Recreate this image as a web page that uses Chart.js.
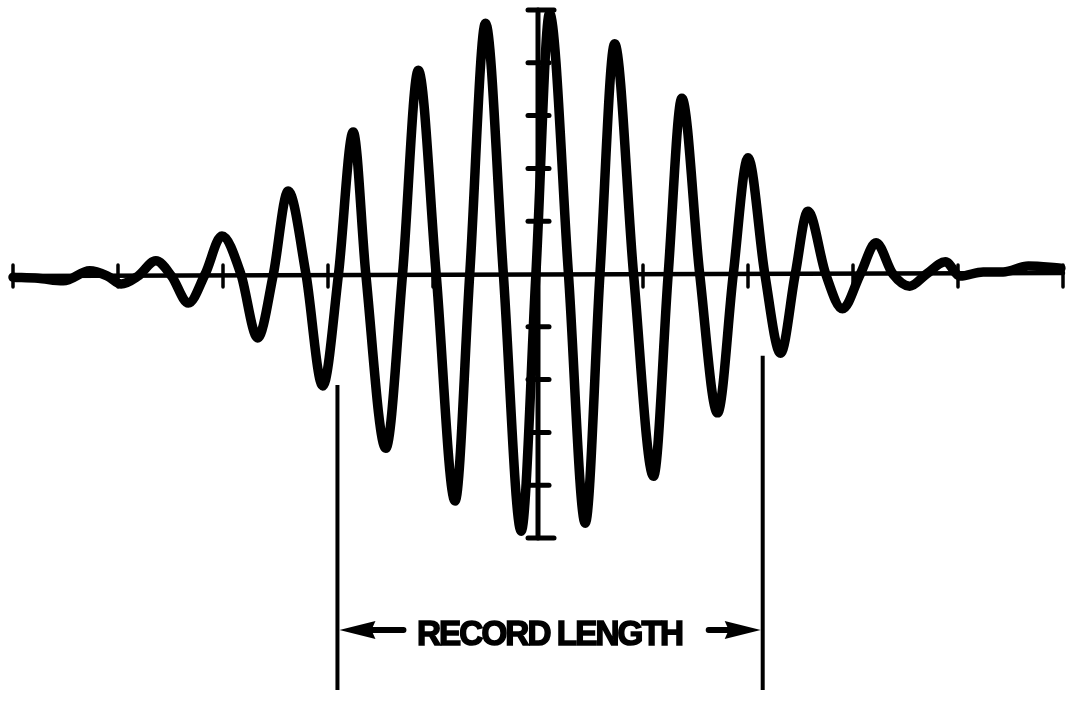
<!DOCTYPE html>
<html>
<head>
<meta charset="utf-8">
<script src="https://cdn.jsdelivr.net/npm/chart.js@4/dist/chart.umd.min.js"></script>
<style>
  html, body { margin: 0; padding: 0; background: #fff; }
  #wrap { position: relative; width: 1068px; height: 701px; overflow: hidden; }
  #c { position: absolute; left: 0; top: 0; }
  #label {
    position: absolute;
    font-family: "Liberation Sans Narrow", "Liberation Sans", Arial, sans-serif;
    font-weight: bold;
    font-size: 35px;
    line-height: 35px;
    letter-spacing: -2px;
    color: #000;
    -webkit-text-stroke: 1.6px #000;
    white-space: nowrap;
    transform-origin: 0 0;
  }
</style>
</head>
<body>
<div id="wrap">
  <canvas id="c" width="1068" height="701"></canvas>
  <div id="label"></div>
</div>
<script>
// Sampled signal: time (axis divisions) and amplitude (axis divisions)
const timeValues = [
  -5.00, -4.76, -4.52, -4.27, -4.10, -3.97, -3.81, -3.64, -3.49, -3.33,
  -3.17, -3.01, -2.83, -2.67, -2.52, -2.38, -2.21, -2.05, -1.90, -1.76,
  -1.64, -1.45, -1.29, -1.14, -0.97, -0.79, -0.65, -0.50, -0.33, -0.16,
  -0.02,  0.11,  0.29,  0.45,  0.59,  0.73,  0.91,  1.10,  1.24,  1.37,
   1.54,  1.71,  1.86,  2.00,  2.16,  2.31,  2.45,  2.57,  2.74,  2.90,
   3.07,  3.22,  3.38,  3.54,  3.70,  3.88,  4.02,  4.24,  4.43,  4.67,
   4.98
];
const amplitudeValues = [
  -0.06, -0.08, -0.13,  0.06, -0.04, -0.19, -0.04,  0.25, -0.04, -0.55,
   0.00,  0.72,  0.00, -1.21,  0.00,  1.57,  0.00, -2.12,  0.00,  2.69,
   0.00, -3.30,  0.00,  3.86,  0.00, -4.30,  0.00,  4.75,  0.00, -4.87,
   0.00,  4.94,  0.00, -4.72,  0.00,  4.36,  0.00, -3.83,  0.00,  3.33,
   0.00, -2.63,  0.00,  2.20,  0.00, -1.50,  0.00,  1.19,  0.00, -0.66,
   0.00,  0.59,  0.00, -0.23,  0.00,  0.23, -0.04,  0.04,  0.04,  0.15,
   0.11
];

// Graticule divisions on both axes
const xTickValues = [-5, -4, -3, -2, -1, 0, 1, 2, 3, 4, 5];
const yTickValues = [-5, -4, -3, -2, -1, 0, 1, 2, 3, 4, 5];

// Record window (time divisions) and its caption
const recordStart = -1.91;
const recordEnd = 2.14;
const recordLabel = 'RECORD LENGTH';

const INK = '#000';

// Cross-shaped axes through the origin with ticks crossing the lines
const crossAxes = {
  id: 'crossAxes',
  beforeDatasetsDraw(chart) {
    const { ctx, scales: { x, y } } = chart;
    const x0 = x.getPixelForValue(0);
    const y0 = y.getPixelForValue(0);
    ctx.save();
    ctx.strokeStyle = INK;
    ctx.lineCap = 'round';

    // horizontal axis
    ctx.lineWidth = 4.5;
    ctx.beginPath();
    ctx.moveTo(x.getPixelForValue(xTickValues[0]), y0 + 2);
    ctx.lineTo(x.getPixelForValue(xTickValues[xTickValues.length - 1]), y0 - 1);
    ctx.stroke();
    ctx.lineWidth = 3.5;
    xTickValues.forEach(v => {
      if (v === 0) return;
      const px = x.getPixelForValue(v);
      ctx.beginPath();
      ctx.moveTo(px, y0 - 9);
      ctx.lineTo(px, y0 + 13);
      ctx.stroke();
    });

    // vertical axis
    ctx.lineWidth = 5;
    ctx.beginPath();
    ctx.moveTo(x0, y.getPixelForValue(yTickValues[yTickValues.length - 1]));
    ctx.lineTo(x0, y.getPixelForValue(yTickValues[0]));
    ctx.stroke();
    yTickValues.forEach(v => {
      if (v === 0) return;
      const py = y.getPixelForValue(v);
      const wide = Math.abs(v) === 5;
      ctx.beginPath();
      ctx.moveTo(x0 - 10, py);
      ctx.lineTo(x0 + (wide ? 16 : 11), py);
      ctx.stroke();
    });
    ctx.restore();
  }
};

// Record-length markers with arrows pointing out to them
const recordMarkers = {
  id: 'recordMarkers',
  afterDatasetsDraw(chart, args, opts) {
    const { ctx, scales: { x, y } } = chart;
    const xa = x.getPixelForValue(recordStart);
    const xb = x.getPixelForValue(recordEnd);
    const bottom = chart.height - 11;
    const arrowY = chart.height - 71;
    ctx.save();
    ctx.strokeStyle = INK;
    ctx.fillStyle = INK;
    ctx.lineWidth = 4;
    ctx.beginPath();
    ctx.moveTo(xa, y.getPixelForValue(opts.startTop));
    ctx.lineTo(xa, bottom);
    ctx.moveTo(xb, y.getPixelForValue(opts.endTop));
    ctx.lineTo(xb, bottom);
    ctx.stroke();

    const arrow = (tip, dir, shaftLen) => {
      const headLen = 38;
      ctx.beginPath();
      ctx.moveTo(tip + dir * 2, arrowY);
      ctx.lineTo(tip + dir * headLen, arrowY - 9);
      ctx.lineTo(tip + dir * (headLen - 4), arrowY);
      ctx.lineTo(tip + dir * headLen, arrowY + 9);
      ctx.closePath();
      ctx.fill();
      ctx.lineWidth = 6;
      ctx.lineCap = 'round';
      ctx.beginPath();
      ctx.moveTo(tip + dir * (headLen - 8), arrowY);
      ctx.lineTo(tip + dir * (headLen + shaftLen), arrowY);
      ctx.stroke();
    };
    arrow(xa, 1, 28);
    arrow(xb, -1, 16);
    ctx.restore();

    // caption between the arrows
    const label = document.getElementById('label');
    label.textContent = recordLabel;
    const natural = label.getBoundingClientRect().width;
    const target = 265;
    const sx = target / natural;
    label.style.transform = 'scaleX(' + sx + ')';
    label.style.left = ((xa + xb) / 2 - target / 2 - 1) + 'px';
    label.style.top = (arrowY - 15) + 'px';
  }
};

new Chart(document.getElementById('c'), {
  type: 'line',
  data: {
    datasets: [{
      data: timeValues.map((t, i) => ({ x: t, y: amplitudeValues[i] })),
      borderColor: INK,
      borderWidth: 9.5,
      borderCapStyle: 'round',
      borderJoinStyle: 'round',
      pointRadius: 0,
      cubicInterpolationMode: 'monotone',
      fill: false,
      clip: false
    }]
  },
  options: {
    responsive: false,
    animation: false,
    events: [],
    layout: { padding: { left: 13, right: 5, top: 10, bottom: 163 } },
    scales: {
      x: { type: 'linear', min: -5, max: 5, display: false },
      y: { type: 'linear', min: -5, max: 5, display: false }
    },
    plugins: {
      legend: { display: false },
      tooltip: { enabled: false },
      recordMarkers: { startTop: -2.10, endTop: -1.55 }
    }
  },
  plugins: [crossAxes, recordMarkers]
});
</script>
</body>
</html>
